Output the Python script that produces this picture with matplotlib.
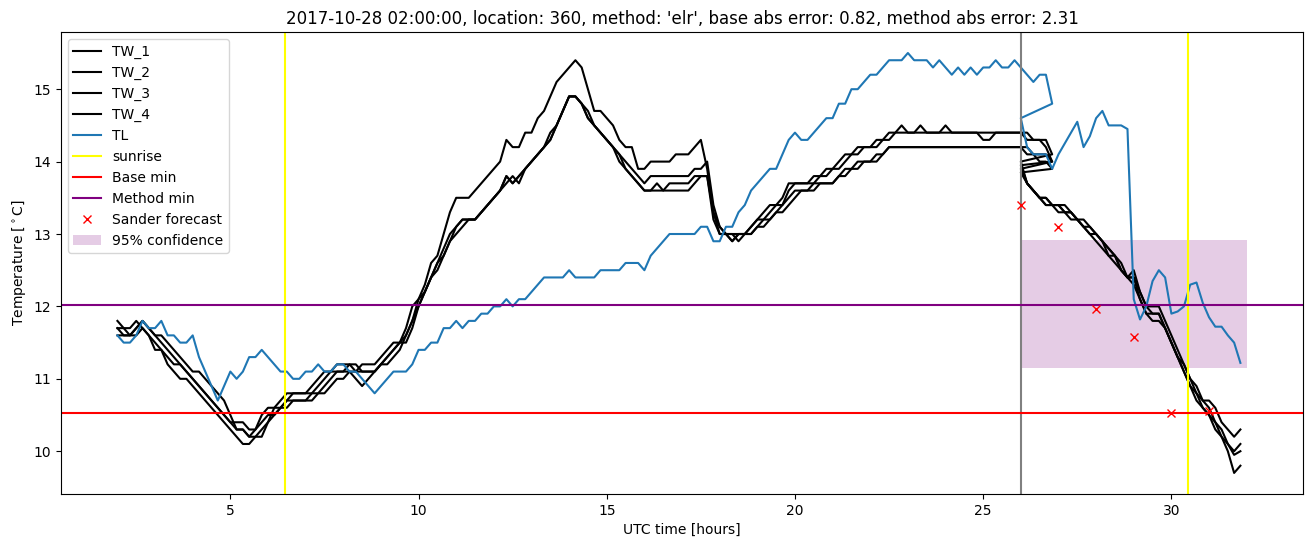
import numpy as np
import matplotlib
matplotlib.use("Agg")
import matplotlib.pyplot as plt

# observed window, 10 min steps from 02:00 (hours since start of day)
t_obs = 2 + np.arange(150) / 6
# forecast window, 10 min steps from 26:00
t_fc = 26 + np.arange(36) / 6

tw1_obs = [
    11.8, 11.7, 11.7, 11.8, 11.7, 11.6,
    11.4, 11.4, 11.3, 11.2, 11.2, 11.1,
    11.0, 10.9, 10.8, 10.7, 10.6, 10.5,
    10.4, 10.4, 10.4, 10.3, 10.3, 10.5,
    10.6, 10.6, 10.7, 10.8, 10.8, 10.8,
    10.8, 10.9, 11.0, 11.1, 11.1, 11.2,
    11.2, 11.2, 11.1, 11.2, 11.2, 11.2,
    11.3, 11.4, 11.5, 11.5, 11.7, 12.0,
    12.1, 12.3, 12.6, 12.7, 13.0, 13.3,
    13.5, 13.5, 13.5, 13.6, 13.7, 13.8,
    13.9, 14.0, 14.3, 14.2, 14.2, 14.4,
    14.4, 14.6, 14.7, 14.9, 15.1, 15.2,
    15.3, 15.4, 15.3, 15.0, 14.7, 14.7,
    14.6, 14.5, 14.3, 14.2, 14.2, 13.9,
    13.9, 14.0, 14.0, 14.0, 14.0, 14.1,
    14.1, 14.1, 14.2, 14.3, 13.9, 13.3,
    13.0, 13.0, 12.9, 13.0, 13.0, 13.1,
    13.2, 13.3, 13.4, 13.4, 13.5, 13.7,
    13.7, 13.7, 13.7, 13.8, 13.8, 13.9,
    13.9, 14.0, 14.1, 14.1, 14.2, 14.2,
    14.2, 14.3, 14.3, 14.4, 14.4, 14.5,
    14.4, 14.4, 14.5, 14.4, 14.4, 14.4,
    14.5, 14.4, 14.4, 14.4, 14.4, 14.4,
    14.4, 14.4, 14.4, 14.4, 14.4, 14.4,
    14.4, 14.4, 14.3, 14.3, 14.3, 14.1,
]
tw2_obs = [
    11.7, 11.6, 11.6, 11.7, 11.8, 11.7,
    11.6, 11.6, 11.5, 11.4, 11.3, 11.2,
    11.1, 11.1, 11.0, 10.9, 10.8, 10.7,
    10.5, 10.3, 10.3, 10.2, 10.2, 10.3,
    10.4, 10.6, 10.6, 10.7, 10.8, 10.8,
    10.8, 10.8, 10.9, 11.0, 11.1, 11.1,
    11.1, 11.2, 11.2, 11.1, 11.1, 11.1,
    11.2, 11.3, 11.4, 11.5, 11.5, 11.7,
    12.0, 12.2, 12.4, 12.6, 12.8, 13.0,
    13.1, 13.2, 13.2, 13.2, 13.3, 13.4,
    13.5, 13.6, 13.8, 13.7, 13.8, 13.9,
    14.0, 14.1, 14.2, 14.3, 14.5, 14.7,
    14.9, 14.9, 14.8, 14.7, 14.5, 14.4,
    14.3, 14.2, 14.1, 14.0, 13.9, 13.8,
    13.7, 13.8, 13.8, 13.8, 13.8, 13.8,
    13.8, 13.8, 13.9, 13.9, 14.0, 13.4,
    13.1, 13.0, 13.0, 13.0, 13.0, 13.1,
    13.2, 13.2, 13.3, 13.4, 13.4, 13.6,
    13.7, 13.7, 13.7, 13.7, 13.8, 13.8,
    13.9, 13.9, 14.0, 14.1, 14.1, 14.2,
    14.2, 14.2, 14.3, 14.3, 14.4, 14.4,
    14.4, 14.4, 14.4, 14.4, 14.4, 14.4,
    14.4, 14.4, 14.4, 14.4, 14.4, 14.4,
    14.3, 14.3, 14.4, 14.4, 14.4, 14.4,
    14.4, 14.3, 14.3, 14.3, 14.2, 14.0,
]
tw3_obs = [
    11.7, 11.7, 11.6, 11.6, 11.7, 11.6,
    11.5, 11.4, 11.2, 11.1, 11.0, 11.0,
    10.9, 10.8, 10.7, 10.6, 10.5, 10.4,
    10.3, 10.2, 10.1, 10.1, 10.2, 10.2,
    10.4, 10.5, 10.6, 10.6, 10.7, 10.7,
    10.7, 10.8, 10.8, 10.9, 11.0, 11.1,
    11.1, 11.1, 11.0, 10.9, 11.0, 11.1,
    11.2, 11.3, 11.4, 11.5, 11.6, 11.8,
    12.0, 12.2, 12.4, 12.6, 12.7, 12.9,
    13.1, 13.2, 13.2, 13.2, 13.3, 13.4,
    13.5, 13.6, 13.7, 13.8, 13.7, 13.9,
    14.0, 14.1, 14.2, 14.3, 14.5, 14.7,
    14.9, 14.9, 14.8, 14.6, 14.5, 14.4,
    14.3, 14.2, 14.1, 13.9, 13.8, 13.7,
    13.6, 13.6, 13.7, 13.6, 13.7, 13.7,
    13.7, 13.7, 13.8, 13.8, 13.8, 13.3,
    13.1, 13.0, 12.9, 13.0, 13.0, 13.0,
    13.1, 13.2, 13.2, 13.3, 13.3, 13.4,
    13.5, 13.6, 13.6, 13.6, 13.7, 13.7,
    13.7, 13.8, 13.8, 13.9, 13.9, 14.0,
    14.0, 14.0, 14.1, 14.2, 14.2, 14.2,
    14.2, 14.2, 14.2, 14.2, 14.2, 14.2,
    14.2, 14.2, 14.2, 14.2, 14.2, 14.2,
    14.2, 14.2, 14.2, 14.2, 14.2, 14.2,
    14.2, 14.2, 14.1, 14.1, 14.1, 14.0,
]
tw4_obs = [
    11.6, 11.6, 11.6, 11.7, 11.8, 11.7,
    11.6, 11.5, 11.4, 11.3, 11.2, 11.1,
    11.0, 10.9, 10.8, 10.7, 10.6, 10.5,
    10.4, 10.3, 10.3, 10.2, 10.3, 10.4,
    10.5, 10.5, 10.6, 10.7, 10.7, 10.7,
    10.7, 10.7, 10.8, 10.8, 10.9, 11.0,
    11.0, 11.1, 11.1, 11.1, 11.1, 11.1,
    11.2, 11.2, 11.3, 11.4, 11.6, 11.8,
    12.1, 12.2, 12.4, 12.5, 12.7, 12.9,
    13.0, 13.1, 13.2, 13.2, 13.3, 13.4,
    13.5, 13.6, 13.8, 13.7, 13.8, 13.9,
    14.0, 14.1, 14.2, 14.4, 14.5, 14.7,
    14.9, 14.9, 14.8, 14.6, 14.5, 14.4,
    14.3, 14.2, 14.0, 13.9, 13.8, 13.7,
    13.6, 13.6, 13.6, 13.6, 13.6, 13.6,
    13.6, 13.6, 13.7, 13.8, 13.8, 13.2,
    13.0, 13.0, 13.0, 12.9, 13.0, 13.0,
    13.1, 13.1, 13.2, 13.3, 13.4, 13.5,
    13.6, 13.6, 13.6, 13.7, 13.7, 13.7,
    13.7, 13.8, 13.9, 13.9, 14.0, 14.0,
    14.0, 14.1, 14.1, 14.2, 14.2, 14.2,
    14.2, 14.2, 14.2, 14.2, 14.2, 14.2,
    14.2, 14.2, 14.2, 14.2, 14.2, 14.2,
    14.2, 14.2, 14.2, 14.2, 14.2, 14.2,
    14.2, 14.1, 14.1, 14.0, 14.0, 13.9,
]
tl_obs = [
    11.6, 11.5, 11.5, 11.6, 11.8, 11.7,
    11.7, 11.8, 11.6, 11.6, 11.5, 11.5,
    11.6, 11.3, 11.1, 10.9, 10.7, 10.9,
    11.1, 11.0, 11.1, 11.3, 11.3, 11.4,
    11.3, 11.2, 11.1, 11.1, 11.0, 11.0,
    11.1, 11.1, 11.2, 11.1, 11.1, 11.2,
    11.2, 11.1, 11.1, 11.0, 10.9, 10.8,
    10.9, 11.0, 11.1, 11.1, 11.1, 11.2,
    11.4, 11.4, 11.5, 11.5, 11.7, 11.7,
    11.8, 11.7, 11.8, 11.8, 11.9, 11.9,
    12.0, 12.0, 12.1, 12.0, 12.1, 12.1,
    12.2, 12.3, 12.4, 12.4, 12.4, 12.4,
    12.5, 12.4, 12.4, 12.4, 12.4, 12.5,
    12.5, 12.5, 12.5, 12.6, 12.6, 12.6,
    12.5, 12.7, 12.8, 12.9, 13.0, 13.0,
    13.0, 13.0, 13.0, 13.1, 13.1, 12.9,
    12.9, 13.1, 13.1, 13.3, 13.4, 13.6,
    13.7, 13.8, 13.9, 13.9, 14.1, 14.3,
    14.4, 14.3, 14.3, 14.4, 14.5, 14.6,
    14.6, 14.8, 14.8, 15.0, 15.0, 15.1,
    15.2, 15.2, 15.3, 15.4, 15.4, 15.4,
    15.5, 15.4, 15.4, 15.4, 15.3, 15.4,
    15.3, 15.2, 15.3, 15.2, 15.3, 15.2,
    15.3, 15.3, 15.4, 15.3, 15.3, 15.4,
    15.3, 15.2, 15.1, 15.2, 15.2, 14.8,
]

tw1_fc = [14.0, 13.7, 13.6, 13.5, 13.5, 13.4, 13.4, 13.4, 13.3, 13.2, 13.2, 13.1,
          13.0, 12.9, 12.8, 12.7, 12.6, 12.4, 12.5, 12.2, 12.0, 12.0, 12.0, 11.8,
          11.6, 11.4, 11.2, 11.0, 10.9, 10.7, 10.7, 10.6, 10.4, 10.3, 10.2, 10.3]
tw2_fc = [13.95, 13.7, 13.6, 13.5, 13.5, 13.4, 13.4, 13.3, 13.3, 13.2, 13.1, 13.1,
          13.0, 12.9, 12.8, 12.7, 12.5, 12.4, 12.4, 12.2, 12.0, 11.9, 11.9, 11.7,
          11.5, 11.3, 11.2, 11.0, 10.8, 10.7, 10.6, 10.4, 10.3, 10.1, 10.0, 10.1]
tw3_fc = [13.9, 13.7, 13.6, 13.5, 13.4, 13.4, 13.4, 13.3, 13.3, 13.2, 13.1, 13.0,
          13.0, 12.9, 12.7, 12.7, 12.5, 12.4, 12.4, 12.1, 11.9, 11.9, 11.9, 11.7,
          11.5, 11.3, 11.1, 10.9, 10.8, 10.6, 10.5, 10.4, 10.2, 10.1, 9.95, 10.0]
tw4_fc = [13.85, 13.7, 13.6, 13.5, 13.4, 13.4, 13.3, 13.3, 13.2, 13.2, 13.1, 13.0,
          12.9, 12.8, 12.7, 12.6, 12.5, 12.4, 12.3, 12.1, 11.9, 11.8, 11.8, 11.7,
          11.5, 11.3, 11.1, 10.9, 10.7, 10.6, 10.5, 10.3, 10.2, 10.0, 9.7, 9.8]
tl_fc = [14.6, 14.2, 14.1, 14.1, 14.1, 13.9, 14.1, 14.25, 14.4, 14.55, 14.2, 14.35,
         14.6, 14.7, 14.5, 14.5, 14.5, 14.45, 12.1, 11.82, 12.0, 12.35, 12.5, 12.4,
         11.9, 11.93, 12.0, 12.3, 12.33, 12.05, 11.85, 11.72, 11.72, 11.6, 11.5, 11.22]

sunrise = [6.45, 30.45]
now = 26
base_min = 10.53
method_min = 12.02
sander_t = [26, 27, 28, 29, 30, 31]
sander_v = [13.40, 13.10, 11.97, 11.58, 10.53, 10.55]
conf_t = [26, 32]
conf_low = 11.15
conf_high = 12.92

t_all = np.concatenate([t_obs, t_fc])

fig = plt.figure(figsize=(13.11, 5.47), dpi=100)
ax = fig.add_axes([0.0465, 0.097, 0.9475, 0.8445])

for name, obs, fc in [("TW_1", tw1_obs, tw1_fc), ("TW_2", tw2_obs, tw2_fc),
                      ("TW_3", tw3_obs, tw3_fc), ("TW_4", tw4_obs, tw4_fc)]:
    ax.plot(t_all, np.concatenate([obs, fc]), color="black", label=name)
ax.plot(t_all, np.concatenate([tl_obs, tl_fc]), color="tab:blue", label="TL")

ax.axvline(now, color="grey")
ax.axvline(sunrise[0], color="yellow", label="sunrise")
ax.axvline(sunrise[1], color="yellow")
ax.axhline(base_min, color="red", label="Base min")
ax.axhline(method_min, color="purple", label="Method min")
ax.plot(sander_t, sander_v, "rx", label="Sander forecast")
ax.fill_between(conf_t, conf_low, conf_high, color="purple", alpha=0.2,
                linewidth=0, label="95% confidence")

ax.set_title("2017-10-28 02:00:00, location: 360, method: 'elr', "
             "base abs error: 0.82, method abs error: 2.31")
ax.set_xlabel("UTC time [hours]")
ax.set_ylabel(r"Temperature [$^\circ$C]")
ax.legend(loc="upper left")

fig.savefig("out.png", dpi=100)
